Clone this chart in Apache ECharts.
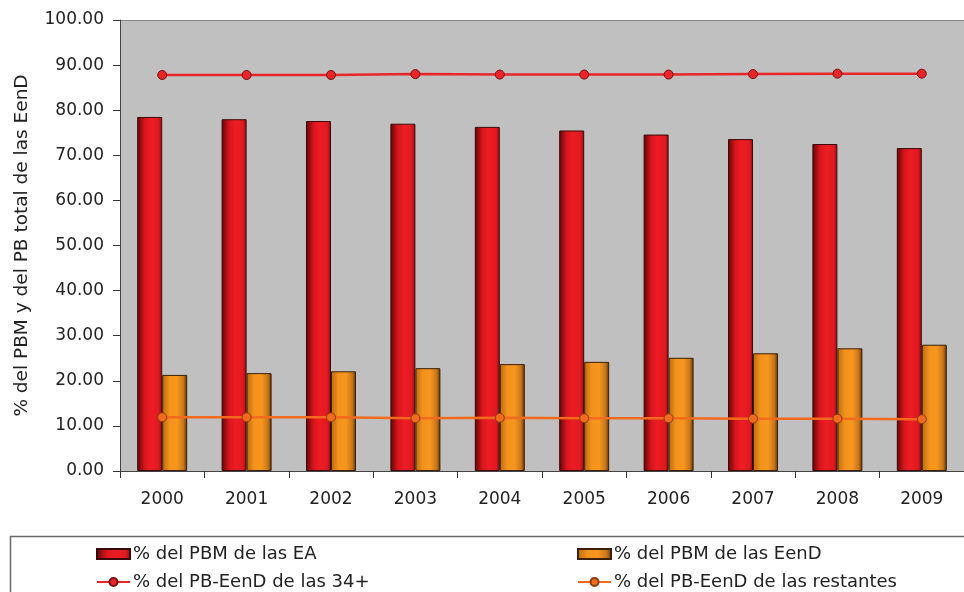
<!DOCTYPE html>
<html>
<head>
<meta charset="utf-8">
<script src="https://cdn.jsdelivr.net/npm/echarts@6/dist/echarts.min.js"></script>
<style>html,body{margin:0;padding:0;background:#fff}#c{width:964px;height:592px}</style>
</head>
<body>
<div id="c"></div>
<script>
var years = ['2000','2001','2002','2003','2004','2005','2006','2007','2008','2009'];
var pbmEA = [78.5, 78.0, 77.6, 77.0, 76.3, 75.5, 74.6, 73.6, 72.5, 71.6];
var pbmEenD = [21.3, 21.7, 22.1, 22.8, 23.7, 24.2, 25.1, 26.1, 27.2, 28.0];
var pbEenD34 = [87.8, 87.8, 87.8, 88.0, 87.9, 87.9, 87.9, 88.0, 88.1, 88.1];
var pbEenDRest = [11.9, 11.9, 11.9, 11.7, 11.8, 11.7, 11.7, 11.6, 11.6, 11.5];
var yTicks = [0, 10, 20, 30, 40, 50, 60, 70, 80, 90, 100];
var names = ['% del PBM de las EA', '% del PBM de las EenD', '% del PB-EenD de las 34+', '% del PB-EenD de las restantes'];

var FONT = 'DejaVu Sans';
var chart = echarts.init(document.getElementById('c'));
var redGrad = new echarts.graphic.LinearGradient(0,0,1,0,[
  {offset:0,color:'#5e0608'},{offset:0.3,color:'#d8161c'},{offset:0.55,color:'#ee1c24'},{offset:0.85,color:'#e01a20'},{offset:1,color:'#8a0e12'}]);
var orgGrad = new echarts.graphic.LinearGradient(0,0,1,0,[
  {offset:0,color:'#b86a10'},{offset:0.3,color:'#f4931c'},{offset:0.6,color:'#f7961e'},{offset:0.85,color:'#c8761a'},{offset:1,color:'#5a3208'}]);

function leg(name, left, top, icon) {
  var l = {
    data: [name], left: left, top: top, itemWidth: 33, itemHeight: 10, itemGap: 0,
    padding: 0, textStyle: {fontFamily: FONT, fontSize: 18, color: '#222', padding: [0,0,0,-2]},
    selectedMode: false
  };
  if (icon) l.icon = icon;
  return l;
}

chart.setOption({
  animation: false,
  backgroundColor: '#fff',
  grid: {left: 120, top: 20, width: 849, height: 451, show: true, backgroundColor: '#c0c0c0', borderWidth: 0},
  graphic: [
    {type: 'rect', z: -1, shape: {x: 10.5, y: 536.5, width: 970, height: 70}, style: {fill: '#fff', stroke: '#6a6a6a', lineWidth: 1.5}},
    {type: 'line', shape: {x1: 120, y1: 20.5, x2: 964, y2: 20.5}, style: {stroke: '#888', lineWidth: 1}}
  ],
  legend: [
    leg(names[0], 96, 545, 'rect'),
    leg(names[1], 577, 545, 'rect'),
    leg(names[2], 96, 573),
    leg(names[3], 577, 573)
  ],
  xAxis: {
    type: 'category', data: years, boundaryGap: true,
    axisLine: {lineStyle: {color: '#444', width: 1}},
    axisTick: {show: true, length: 7, inside: false, lineStyle: {color: '#333'}},
    axisLabel: {fontFamily: FONT, fontSize: 17, color: '#222', margin: 20},
    splitLine: {show: false}
  },
  yAxis: {
    type: 'value', min: 0, max: 100, interval: 10,
    name: '% del PBM y del PB total de las EenD', nameLocation: 'middle', nameGap: 88,
    nameTextStyle: {fontFamily: FONT, fontSize: 18.5, color: '#222'},
    axisLine: {show: true, lineStyle: {color: '#444', width: 1}},
    axisTick: {show: true, length: 7, lineStyle: {color: '#333'}},
    axisLabel: {fontFamily: FONT, fontSize: 17, color: '#222', margin: 16,
      formatter: function (v) { return yTicks.indexOf(v) >= 0 ? v.toFixed(2) : ''; }},
    splitLine: {show: false}
  },
  series: [
    {name: names[0], type: 'bar', data: pbmEA, barWidth: 25, barGap: '0%',
      itemStyle: {color: redGrad, borderColor: '#3a0a08', borderWidth: 1}},
    {name: names[1], type: 'bar', data: pbmEenD, barWidth: 25, barGap: '0%',
      itemStyle: {color: orgGrad, borderColor: '#3a2008', borderWidth: 1}},
    {name: names[2], type: 'line', data: pbEenD34, symbol: 'circle', symbolSize: 9, z: 5,
      lineStyle: {color: '#e8262a', width: 2.5},
      itemStyle: {color: '#e8262a', borderColor: '#7a1010', borderWidth: 1}},
    {name: names[3], type: 'line', data: pbEenDRest, symbol: 'circle', symbolSize: 9, z: 5,
      lineStyle: {color: '#f26b1d', width: 2.5},
      itemStyle: {color: '#f26b1d', borderColor: '#8a3a10', borderWidth: 1}}
  ]
});
</script>
</body>
</html>
